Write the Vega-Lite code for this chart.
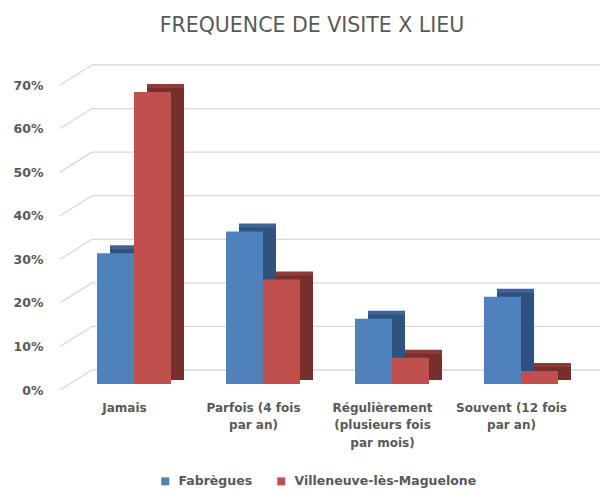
{
  "$schema": "https://vega.github.io/schema/vega-lite/v6.json",
  "width": 516,
  "height": 305,
  "autosize": {"type": "none"},
  "padding": {"left": 60, "top": 85, "right": 24, "bottom": 99},
  "background": "white",
  "title": {
    "text": "FREQUENCE DE VISITE X LIEU",
    "font": "DejaVu Sans",
    "fontSize": 20.5,
    "fontWeight": "normal",
    "color": "#595959",
    "anchor": "middle",
    "dx": -6,
    "offset": 28
  },
  "data": {
    "values": [
      {"cat": "Jamais", "series": "Fabrègues", "value": 0.30},
      {"cat": "Jamais", "series": "Villeneuve-lès-Maguelone", "value": 0.67},
      {"cat": "Parfois (4 fois par an)", "series": "Fabrègues", "value": 0.35},
      {"cat": "Parfois (4 fois par an)", "series": "Villeneuve-lès-Maguelone", "value": 0.24},
      {"cat": "Régulièrement (plusieurs fois par mois)", "series": "Fabrègues", "value": 0.15},
      {"cat": "Régulièrement (plusieurs fois par mois)", "series": "Villeneuve-lès-Maguelone", "value": 0.06},
      {"cat": "Souvent (12 fois par an)", "series": "Fabrègues", "value": 0.20},
      {"cat": "Souvent (12 fois par an)", "series": "Villeneuve-lès-Maguelone", "value": 0.03}
    ]
  },
  "layer": [
    {
      "data": {"values": [{"g": 0}, {"g": 0.1}, {"g": 0.2}, {"g": 0.3}, {"g": 0.4}, {"g": 0.5}, {"g": 0.6}, {"g": 0.7}]},
      "mark": {"type": "rule", "y2Offset": -20, "color": "#D9D9D9", "strokeWidth": 1.3},
      "encoding": {
        "x": {"value": 0},
        "x2": {"value": 32},
        "y": {"field": "g", "type": "quantitative", "scale": {"domain": [0, 0.7], "nice": false}, "axis": {"values": [0, 0.1, 0.2, 0.3, 0.4, 0.5, 0.6, 0.7], "format": ".0%"}, "title": null},
        "y2": {"field": "g"}
      }
    },
    {
      "data": {"values": [{"g": 0}, {"g": 0.1}, {"g": 0.2}, {"g": 0.3}, {"g": 0.4}, {"g": 0.5}, {"g": 0.6}, {"g": 0.7}]},
      "mark": {"type": "rule", "yOffset": -20, "color": "#D9D9D9", "strokeWidth": 1.3},
      "encoding": {
        "x": {"value": 32},
        "x2": {"value": 640},
        "y": {"field": "g", "type": "quantitative", "scale": {"domain": [0, 0.7], "nice": false}, "axis": {"values": [0, 0.1, 0.2, 0.3, 0.4, 0.5, 0.6, 0.7], "format": ".0%"}, "title": null}
      }
    },
    {
      "transform": [{"filter": "datum.series == 'Fabrègues'"}],
      "mark": {"type": "bar", "width": 37, "xOffset": 4, "yOffset": -14, "y2Offset": -14, "color": "#3D6597"},
      "encoding": {
        "x": {"field": "cat", "type": "nominal", "sort": null, "scale": {"paddingInner": 0.426, "paddingOuter": 0.213}, "title": null},
        "y": {"field": "value", "type": "quantitative", "scale": {"domain": [0, 0.7], "nice": false}, "axis": {"values": [0, 0.1, 0.2, 0.3, 0.4, 0.5, 0.6, 0.7], "format": ".0%"}, "title": null}
      }
    },
    {
      "transform": [{"filter": "datum.series == 'Villeneuve-lès-Maguelone'"}],
      "mark": {"type": "bar", "width": 37, "xOffset": 41, "yOffset": -14, "y2Offset": -14, "color": "#8F3C39"},
      "encoding": {
        "x": {"field": "cat", "type": "nominal", "sort": null, "scale": {"paddingInner": 0.426, "paddingOuter": 0.213}, "title": null},
        "y": {"field": "value", "type": "quantitative", "scale": {"domain": [0, 0.7], "nice": false}, "axis": {"values": [0, 0.1, 0.2, 0.3, 0.4, 0.5, 0.6, 0.7], "format": ".0%"}, "title": null}
      }
    },
    {
      "transform": [{"filter": "datum.series == 'Fabrègues'"}],
      "mark": {"type": "bar", "width": 37, "xOffset": 4, "yOffset": -10, "y2Offset": -10, "color": "#30527F"},
      "encoding": {
        "x": {"field": "cat", "type": "nominal", "sort": null, "scale": {"paddingInner": 0.426, "paddingOuter": 0.213}, "title": null},
        "y": {"field": "value", "type": "quantitative", "scale": {"domain": [0, 0.7], "nice": false}, "axis": {"values": [0, 0.1, 0.2, 0.3, 0.4, 0.5, 0.6, 0.7], "format": ".0%"}, "title": null}
      }
    },
    {
      "transform": [{"filter": "datum.series == 'Villeneuve-lès-Maguelone'"}],
      "mark": {"type": "bar", "width": 37, "xOffset": 41, "yOffset": -10, "y2Offset": -10, "color": "#772F2D"},
      "encoding": {
        "x": {"field": "cat", "type": "nominal", "sort": null, "scale": {"paddingInner": 0.426, "paddingOuter": 0.213}, "title": null},
        "y": {"field": "value", "type": "quantitative", "scale": {"domain": [0, 0.7], "nice": false}, "axis": {"values": [0, 0.1, 0.2, 0.3, 0.4, 0.5, 0.6, 0.7], "format": ".0%"}, "title": null}
      }
    },
    {
      "transform": [{"filter": "datum.series == 'Fabrègues'"}],
      "mark": {"type": "bar", "width": 37, "xOffset": -9, "yOffset": -6, "y2Offset": -6, "opacity": 1},
      "encoding": {
        "x": {"field": "cat", "type": "nominal", "sort": null, "scale": {"paddingInner": 0.426, "paddingOuter": 0.213}, "title": null},
        "y": {"field": "value", "type": "quantitative", "scale": {"domain": [0, 0.7], "nice": false}, "axis": {"values": [0, 0.1, 0.2, 0.3, 0.4, 0.5, 0.6, 0.7], "format": ".0%"}, "title": null},
        "color": {"field": "series", "type": "nominal", "scale": {"domain": ["Fabrègues", "Villeneuve-lès-Maguelone"], "range": ["#4F81BD", "#C0504D"]}, "title": null}
      }
    },
    {
      "transform": [{"filter": "datum.series == 'Villeneuve-lès-Maguelone'"}],
      "mark": {"type": "bar", "width": 37, "xOffset": 28, "yOffset": -6, "y2Offset": -6, "opacity": 1},
      "encoding": {
        "x": {"field": "cat", "type": "nominal", "sort": null, "scale": {"paddingInner": 0.426, "paddingOuter": 0.213}, "title": null},
        "y": {"field": "value", "type": "quantitative", "scale": {"domain": [0, 0.7], "nice": false}, "axis": {"values": [0, 0.1, 0.2, 0.3, 0.4, 0.5, 0.6, 0.7], "format": ".0%"}, "title": null},
        "color": {"field": "series", "type": "nominal", "scale": {"domain": ["Fabrègues", "Villeneuve-lès-Maguelone"], "range": ["#4F81BD", "#C0504D"]}, "title": null}
      }
    }
  ],
  "config": {
    "view": {"stroke": null},
    "axisY": {
      "domain": false, "ticks": false, "grid": false,
      "labelFont": "DejaVu Sans", "labelFontSize": 12.5, "labelFontWeight": "bold", "labelColor": "#595959",
      "labelPadding": 17
    },
    "axisX": {
      "domain": false, "ticks": false, "grid": false, "labelAngle": 0,
      "labelFont": "DejaVu Sans", "labelFontSize": 12, "labelFontWeight": "bold", "labelColor": "#595959",
      "labelPadding": 12, "labelLineHeight": 17.5, "labelBaseline": "top", "labelLimit": 200,
      "labelExpr": "datum.value == 'Parfois (4 fois par an)' ? ['Parfois (4 fois', 'par an)'] : datum.value == 'Régulièrement (plusieurs fois par mois)' ? ['Régulièrement', '(plusieurs fois', 'par mois)'] : datum.value == 'Souvent (12 fois par an)' ? ['Souvent (12 fois', 'par an)'] : datum.label"
    },
    "legend": {
      "orient": "none", "direction": "horizontal", "legendX": 99, "legendY": 390,
      "symbolType": "square", "symbolSize": 64, "symbolStrokeWidth": 0, "symbolOpacity": 1,
      "labelFont": "DejaVu Sans", "labelFontSize": 12.5, "labelFontWeight": "bold", "labelColor": "#595959",
      "labelOffset": 7, "columnPadding": 22, "labelLimit": 300
    }
  }
}
